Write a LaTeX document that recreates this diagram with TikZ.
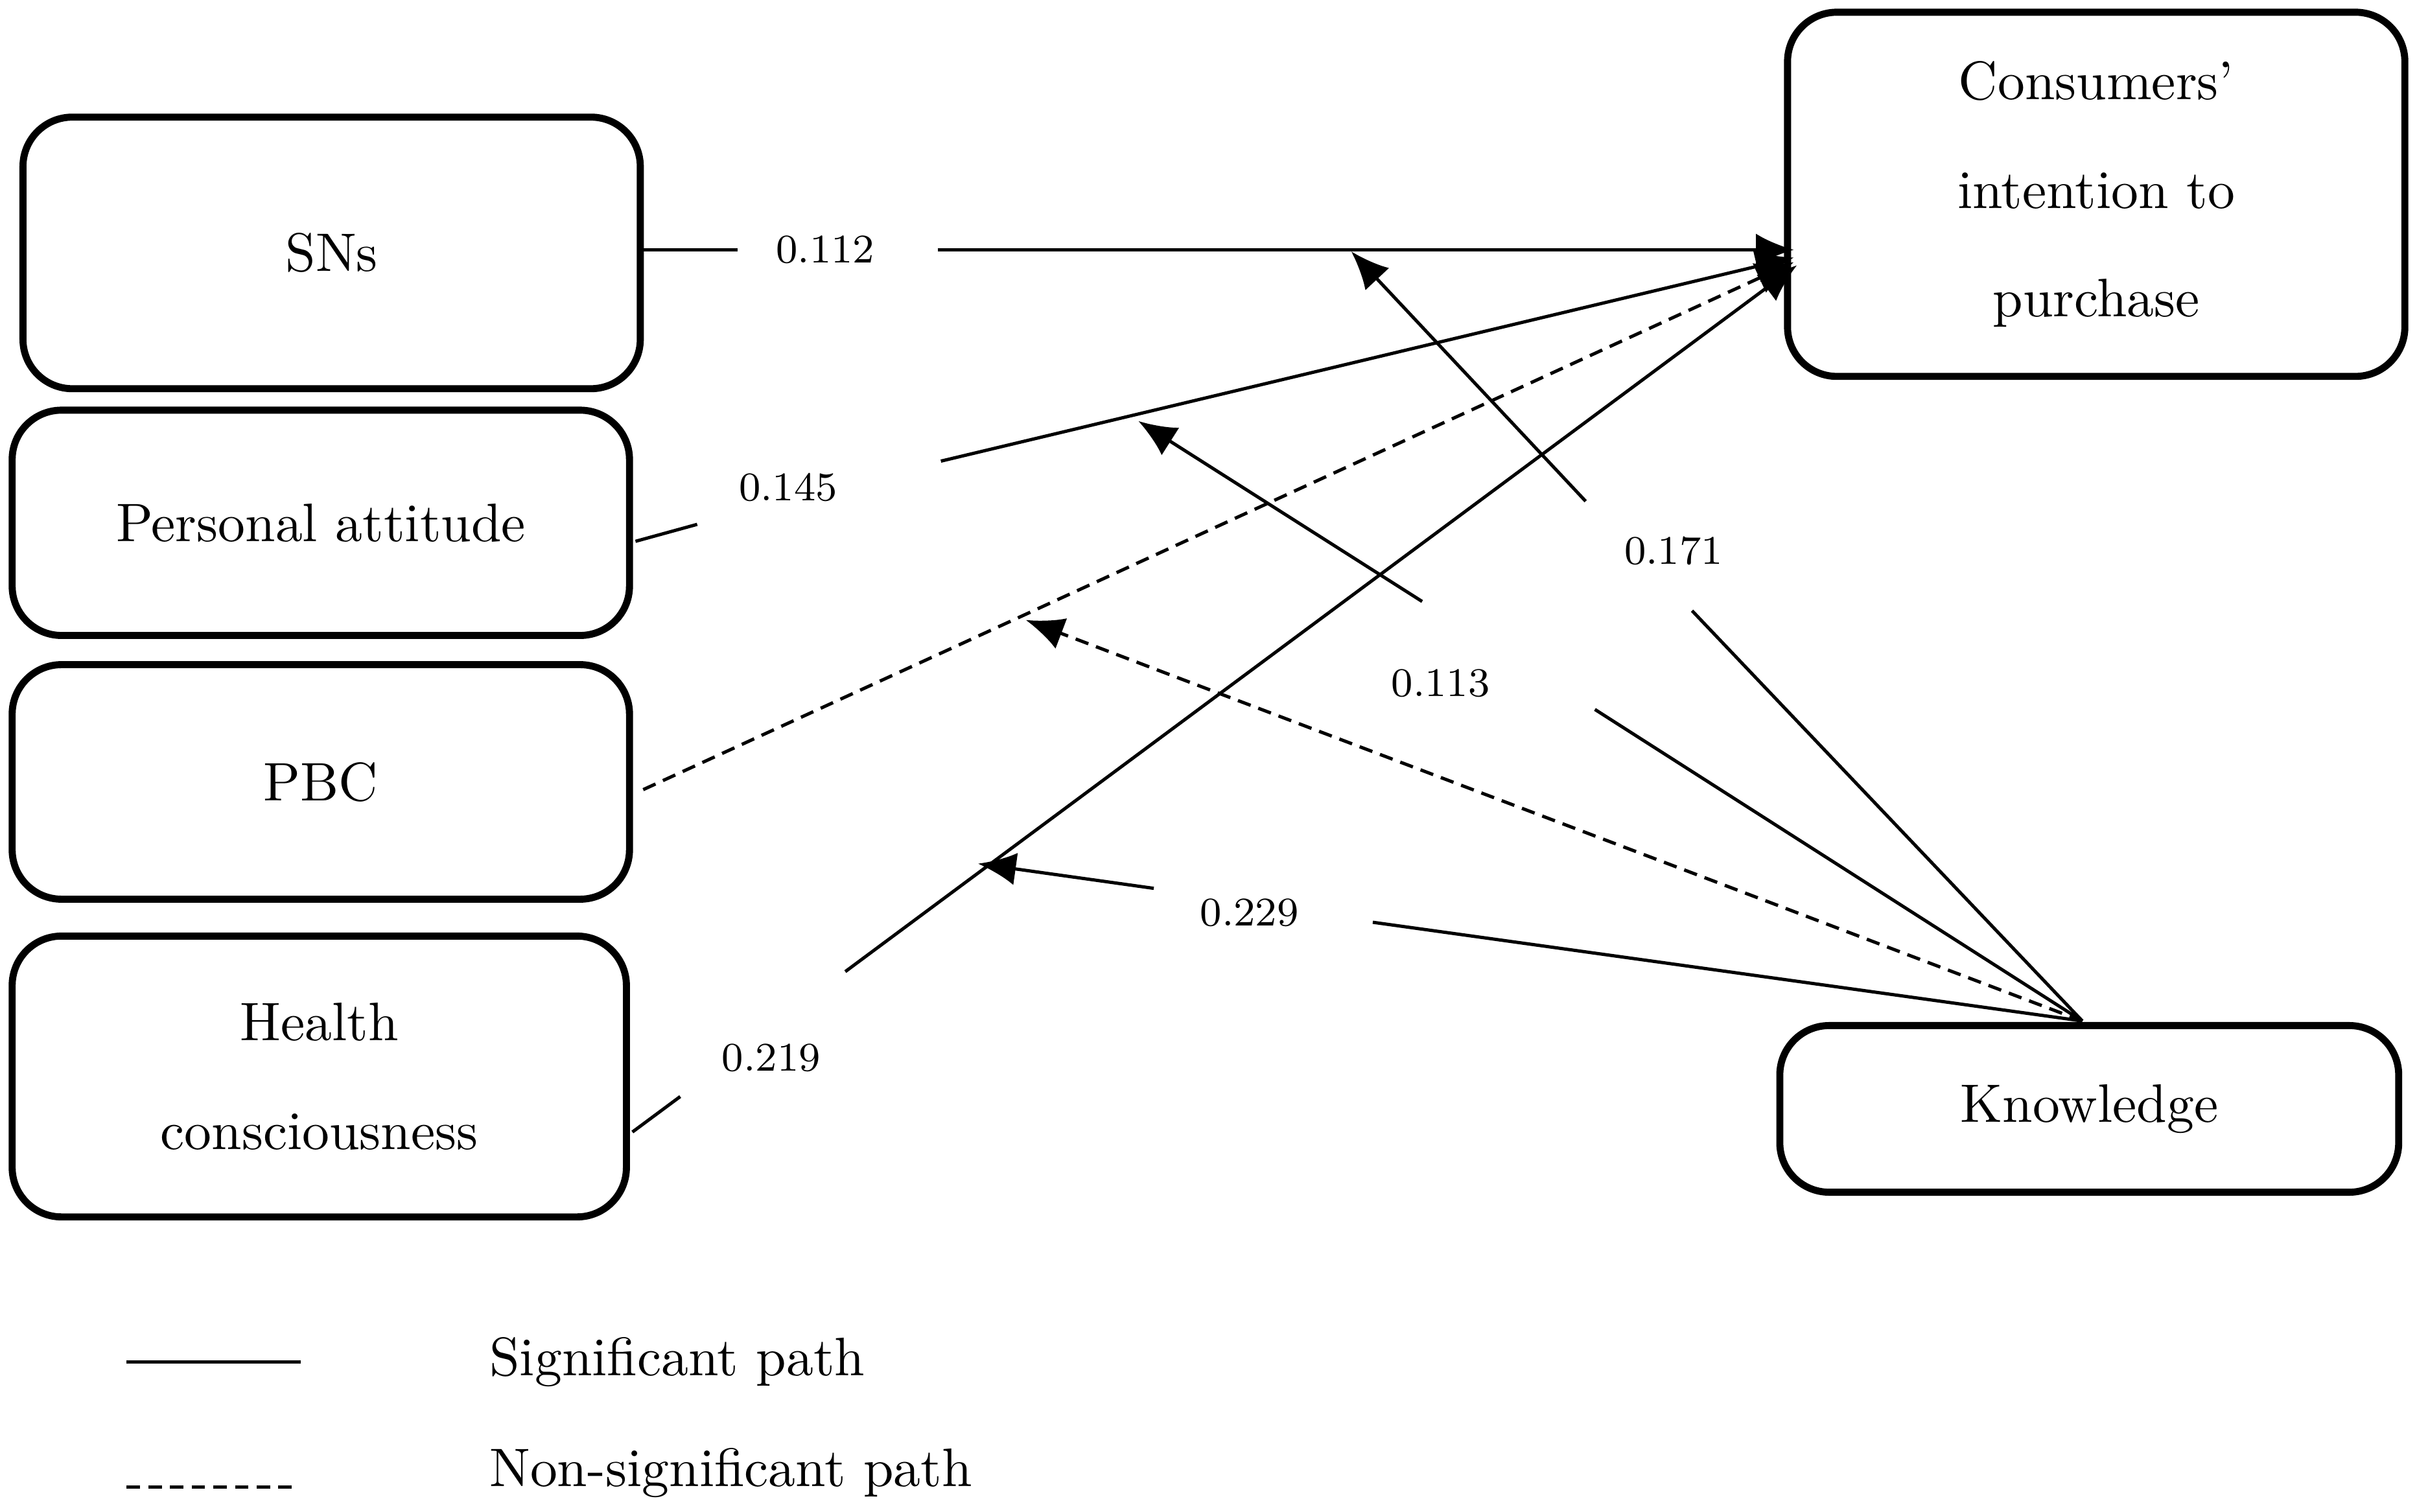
\documentclass[tikz,border=0pt]{standalone}
\usetikzlibrary{arrows.meta}
\begin{document}
\begin{tikzpicture}[x=0.01cm,y=-0.01cm,
 box/.style={draw,line width=1.3pt,rounded corners=0.32cm,align=center,font=\fontsize{10}{14}\selectfont},
 lab/.style={font=\fontsize{7.5}{9}\selectfont},
 arr/.style={line width=0.6pt,-{Latex[length=7pt,width=6pt]}},
 ln/.style={line width=0.6pt},
 dsh/.style={line width=0.6pt,dash pattern=on 2.5pt off 1.5pt}]
\useasboundingbox (0,0) rectangle (1567,980);
\node[box,minimum width=4cm,minimum height=1.76cm] (sn) at (215,164) {SNs};
\node[box,minimum width=4cm,minimum height=1.46cm] (pa) at (208,339) {Personal attitude};
\node[box,minimum width=4cm,minimum height=1.52cm] (pbc) at (208,507) {PBC};
\node[box,minimum width=3.98cm,minimum height=1.82cm] (hc) at (207,698) {Health\\[6pt]consciousness};
\node[box,minimum width=4cm,minimum height=2.36cm] (ci) at (1359,126) {Consumers'\\[6pt]intention to\\[6pt]purchase};
\node[box,minimum width=4.01cm,minimum height=1.08cm] (kn) at (1354.5,719) {Knowledge};
\coordinate (t1) at (1163,162);\coordinate (t2) at (1163,167);\coordinate (t3) at (1163,170);\coordinate (t4) at (1165,172);
\coordinate (k) at (1350,662);
% SNs
\node[lab] (l1) at (535,162) {0.112};
\draw[ln] (417,162) -- (478,162);
\draw[arr] (608,162) -- (t1);
% PA
\node[lab] (l2) at (511,316) {0.145};
\draw[ln] (412,351) -- (452,340);
\draw[arr] (610,299) -- (t2);
% PBC
\draw[dsh,-{Latex[length=7pt,width=6pt]}] (417,512) -- (t3);
% HC
\node[lab] (l3) at (500,686) {0.219};
\draw[ln] (410,734) -- (441,711);
\draw[arr] (548,630) -- (t4);
% moderations
\node[lab] (l4) at (1085,357) {0.171};
\draw[ln] (k) -- (1097,396);
\draw[arr] (1028,325) -- (876,163);
\node[lab] (l5) at (934,443) {0.113};
\draw[ln] (k) -- (1034,460);
\draw[arr] (922,390) -- (738,273);
\draw[dsh,-{Latex[length=7pt,width=6pt]}] (k) -- (665,402);
\node[lab] (l6) at (810,592) {0.229};
\draw[ln] (k) -- (890,598);
\draw[arr] (748,576) -- (634,560);
% legend
\coordinate (a1) at (82,883);\coordinate (a2) at (195,883);
\coordinate (b1) at (82,964);\coordinate (b2) at (192,964);
\draw[ln] (a1) -- (a2);
\draw[dsh] (b1) -- (b2);
\node[anchor=west,font=\fontsize{10}{12}\selectfont] (s1) at (305,883) {Significant path};
\node[anchor=west,font=\fontsize{10}{12}\selectfont] (s2) at (305,955) {Non-significant path};
\end{tikzpicture}
\end{document}
